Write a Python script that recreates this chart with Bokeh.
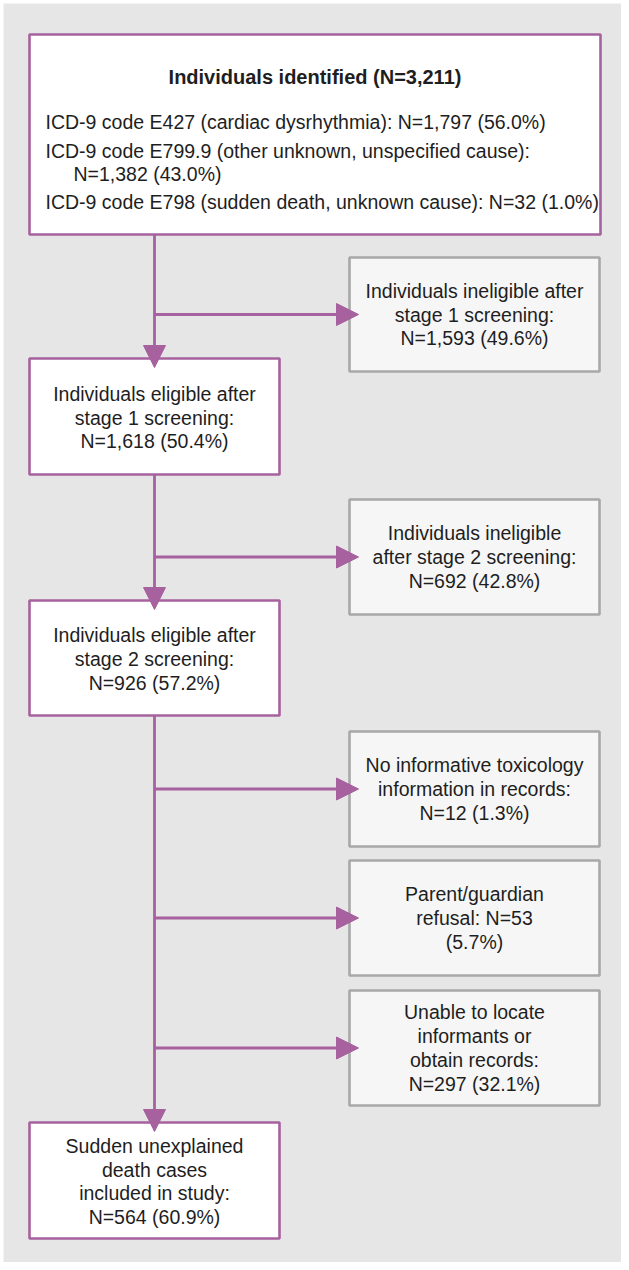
from bokeh.plotting import figure
from bokeh.models import Range1d, Arrow, NormalHead
from bokeh.core.properties import value
from bokeh.embed import file_html
from bokeh.resources import INLINE

# ---- content ----
top_title = "Individuals identified (N=3,211)"
top_lines = [
    "ICD-9 code E427 (cardiac dysrhythmia): N=1,797 (56.0%)",
    "ICD-9 code E799.9 (other unknown, unspecified cause):",
    "N=1,382 (43.0%)",
    "ICD-9 code E798 (sudden death, unknown cause): N=32 (1.0%)",
]
top_indent = [0, 0, 1, 0]

main_labels = [
    ["Individuals eligible after", "stage 1 screening:", "N=1,618 (50.4%)"],
    ["Individuals eligible after", "stage 2 screening:", "N=926 (57.2%)"],
    ["Sudden unexplained", "death cases", "included in study:", "N=564 (60.9%)"],
]
side_labels = [
    ["Individuals ineligible after", "stage 1 screening:", "N=1,593 (49.6%)"],
    ["Individuals ineligible", "after stage 2 screening:", "N=692 (42.8%)"],
    ["No informative toxicology", "information in records:", "N=12 (1.3%)"],
    ["Parent/guardian", "refusal: N=53", "(5.7%)"],
    ["Unable to locate", "informants or", "obtain records:", "N=297 (32.1%)"],
]

# ---- layout (page pixels) ----
PURPLE = "#a6619e"
GREY_LINE = "#a8a8a8"
BG = "#e6e6e6"
TXT = "#1e1e1e"
FONT = "Liberation Sans"
FS = "19.5px"
LH = 23.8

top_box = (37, 608, 42, 242)
main_x = (37, 287)
main_y = [(366, 482), (608, 723), (1130, 1246)]
side_x = (357, 607)
side_y = [(265, 379), (507, 622), (739, 854), (868, 983), (998, 1113)]
trunk_x = 162

p = figure(width=621, height=1262, output_backend="svg", toolbar_location=None,
           x_range=Range1d(8, 629), y_range=Range1d(1270, 8),
           min_border=0, border_fill_color="white", background_fill_color="white")
p.axis.visible = False
p.grid.visible = False
p.outline_line_color = None

# background panel
p.quad(left=[11], right=[629], top=[11], bottom=[1270], fill_color=BG, line_color=None)

# top box
p.quad(left=[top_box[0]], right=[top_box[1]], top=[top_box[2]], bottom=[top_box[3]],
       fill_color="white", line_color=PURPLE, line_width=2.6)

# main boxes
p.quad(left=[main_x[0]] * len(main_y), right=[main_x[1]] * len(main_y),
       top=[a for a, b in main_y], bottom=[b for a, b in main_y],
       fill_color="white", line_color=PURPLE, line_width=2.6)

# side boxes
p.quad(left=[side_x[0]] * len(side_y), right=[side_x[1]] * len(side_y),
       top=[a for a, b in side_y], bottom=[b for a, b in side_y],
       fill_color="#f6f6f6", line_color=GREY_LINE, line_width=2.6)

# arrows
def add_arrow(x0, y0, x1, y1):
    p.add_layout(Arrow(x_start=x0, y_start=y0, x_end=x1, y_end=y1,
                       line_color=PURPLE, line_width=2.8,
                       end=NormalHead(size=22, fill_color=PURPLE, line_color=PURPLE, line_width=1)))

starts = [top_box[3]] + [b for a, b in main_y[:-1]]
for s, (t, b) in zip(starts, main_y):
    add_arrow(trunk_x, s, trunk_x, t + 9)
for (t, b) in side_y:
    yc = (t + b) / 2
    add_arrow(trunk_x, yc, side_x[0] + 9, yc)

# texts
p.text(x=[(top_box[0] + top_box[1]) / 2], y=[84], text=[top_title],
       text_font=value(FONT), text_font_size="20px", text_font_style="bold",
       text_align="center", text_baseline="middle", text_color=TXT)

top_y = [129, 158, 181, 209]
p.text(x=[53 + 28 * i for i in top_indent], y=top_y, text=top_lines,
       text_font=value(FONT), text_font_size=FS,
       text_align="left", text_baseline="middle", text_color=TXT)

def box_text(xl, xr, yt, yb, lines, off=0):
    cx = (xl + xr) / 2
    cy = (yt + yb) / 2 + off
    n = len(lines)
    ys = [cy + (i - (n - 1) / 2) * LH for i in range(n)]
    p.text(x=[cx] * n, y=ys, text=lines, text_font=value(FONT), text_font_size=FS,
           text_align="center", text_baseline="middle", text_color=TXT)

for (t, b), lines in zip(main_y, main_labels):
    box_text(main_x[0], main_x[1], t, b, lines, off=1)
for (t, b), lines in zip(side_y, side_labels):
    box_text(side_x[0], side_x[1], t, b, lines)

open("out.html", "w").write(file_html(p, INLINE))
